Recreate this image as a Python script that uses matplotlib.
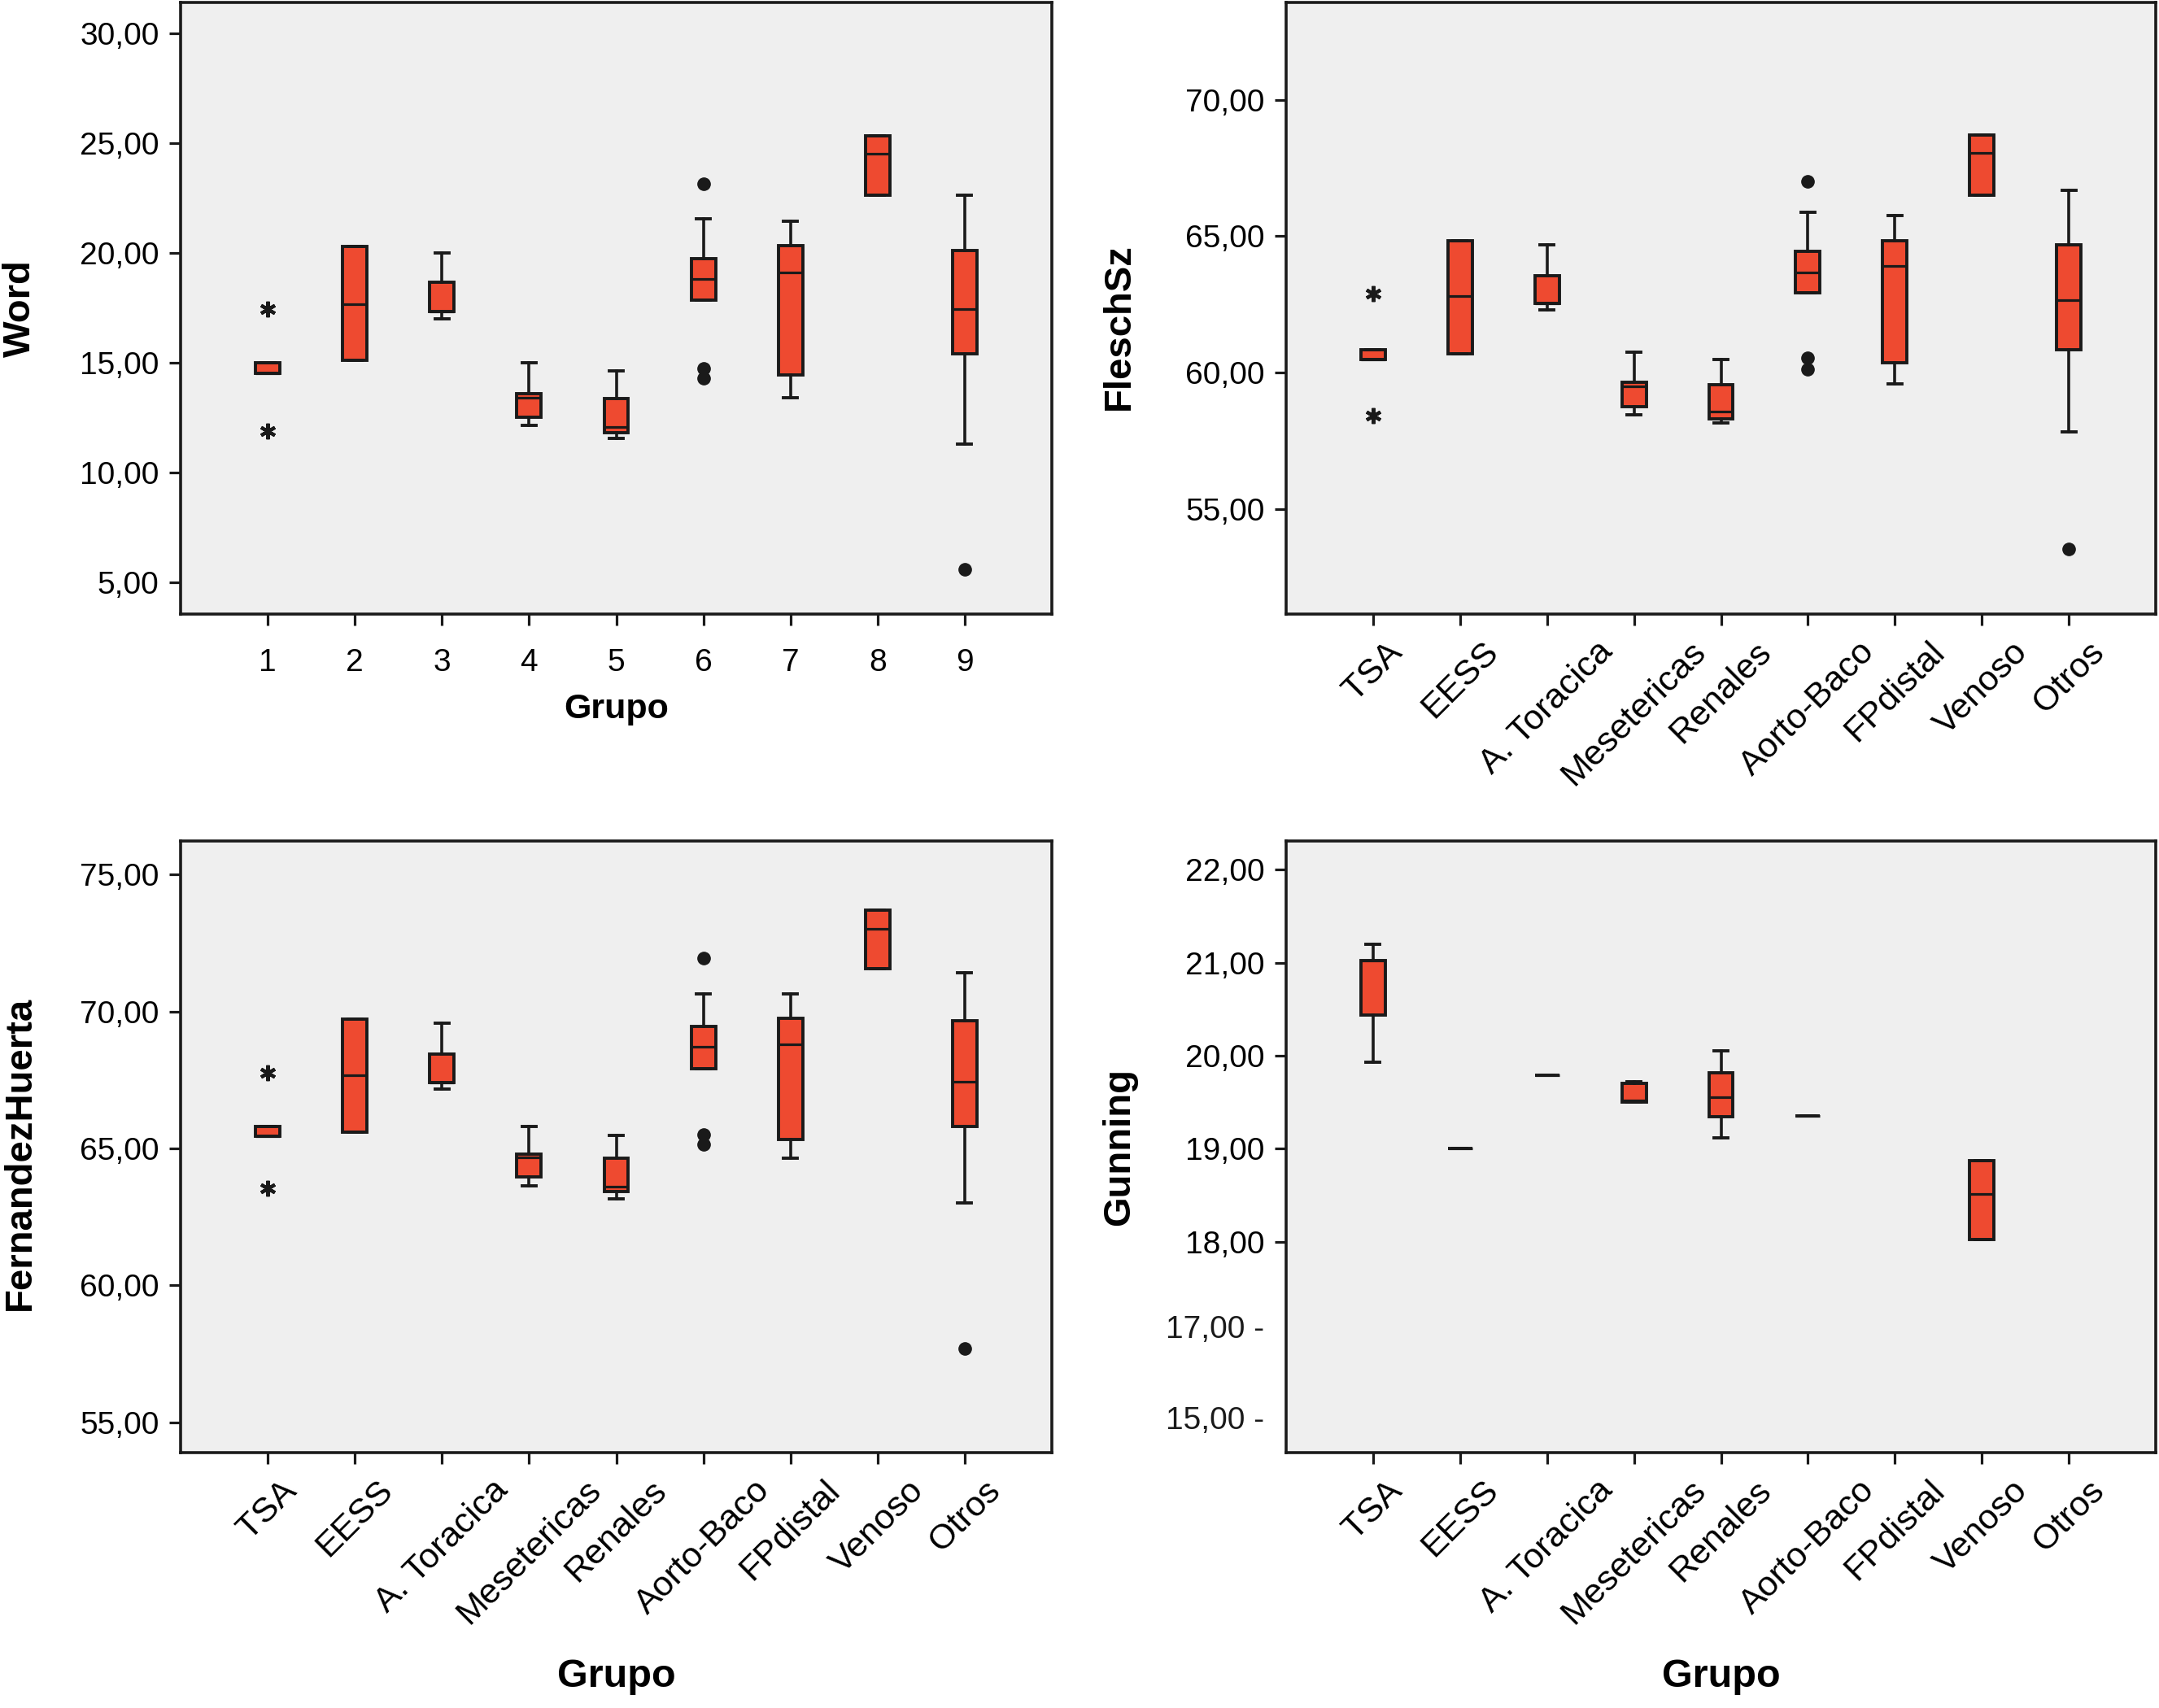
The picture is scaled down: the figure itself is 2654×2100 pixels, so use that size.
import matplotlib
matplotlib.use("Agg")
import matplotlib.pyplot as plt

# ----------------------------
# DATA
# ----------------------------
grupos_num = ["1", "2", "3", "4", "5", "6", "7", "8", "9"]
grupos = ["TSA", "EESS", "A. Toracica", "Mesetericas", "Renales",
          "Aorto-Baco", "FPdistal", "Venoso", "Otros"]

# Word
word_whislo = [14.50, 15.09, 17.01, 12.14, 11.57, 17.86, 13.42, 22.61, 11.29]
word_q1 = [14.50, 15.09, 17.31, 12.50, 11.82, 17.86, 14.44, 22.61, 15.39]
word_med = [14.50, 17.65, 17.31, 13.42, 12.07, 18.81, 19.10, 24.51, 17.42]
word_q3 = [15.00, 20.27, 18.66, 13.59, 13.36, 19.74, 20.31, 25.33, 20.12]
word_whishi = [15.00, 20.27, 19.99, 15.00, 14.63, 21.53, 21.43, 25.33, 22.61]
word_fliers = [[], [], [], [], [], [23.12, 14.72, 14.28], [], [], [5.61]]
word_stars = [[17.45, 11.90], [], [], [], [], [], [], [], []]

# FleschSz
fl_whislo = [60.50, 60.69, 62.30, 58.47, 58.16, 62.92, 59.60, 66.51, 57.84]
fl_q1 = [60.50, 60.69, 62.54, 58.77, 58.32, 62.92, 60.36, 66.51, 60.86]
fl_med = [60.50, 62.80, 62.54, 59.51, 58.58, 63.68, 63.90, 68.04, 62.65]
fl_q3 = [60.84, 64.85, 63.57, 59.67, 59.56, 64.46, 64.85, 68.71, 64.68]
fl_whishi = [60.84, 64.85, 64.68, 60.76, 60.49, 65.88, 65.77, 68.71, 66.67]
fl_fliers = [[], [], [], [], [], [67.01, 60.54, 60.13], [], [], [53.54]]
fl_stars = [[62.89, 58.44], [], [], [], [], [], [], [], []]

# FernandezHuerta
fh_whislo = [65.44, 65.60, 67.17, 63.65, 63.17, 67.90, 64.63, 71.56, 63.02]
fh_q1 = [65.44, 65.60, 67.40, 63.96, 63.42, 67.90, 65.33, 71.56, 65.81]
fh_med = [65.44, 67.67, 67.40, 64.67, 63.60, 68.71, 68.81, 73.00, 67.44]
fh_q3 = [65.79, 69.73, 68.44, 64.79, 64.63, 69.44, 69.75, 73.71, 69.65]
fh_whishi = [65.79, 69.73, 69.58, 65.79, 65.48, 70.63, 70.63, 73.71, 71.42]
fh_fliers = [[], [], [], [], [], [71.94, 65.50, 65.15], [], [], [57.71]]
fh_stars = [[67.77, 63.54], [], [], [], [], [], [], [], []]

# Gunning (no data for FPdistal and Otros)
gu_whislo = [19.93, 19.00, 19.79, 19.50, 19.12, 19.35, None, 18.02, None]
gu_q1 = [20.44, 19.00, 19.79, 19.50, 19.34, 19.35, None, 18.02, None]
gu_med = [21.02, 19.00, 19.79, 19.52, 19.55, 19.35, None, 18.51, None]
gu_q3 = [21.02, 19.00, 19.79, 19.70, 19.82, 19.35, None, 18.87, None]
gu_whishi = [21.20, 19.00, 19.79, 19.72, 20.05, 19.35, None, 18.87, None]

# ----------------------------
# STYLE
# ----------------------------
plt.rcParams["font.family"] = ["Liberation Sans", "DejaVu Sans"]
BOX_COLOR = "#ee4a30"
BG = "#efefef"
INK = "#1a1a1a"

fig = plt.figure(figsize=(26.54, 21.0), dpi=100)
W, H = 2654, 2100


def make_axes(left_px, top_px, right_px, bottom_px):
    return fig.add_axes([left_px / W, 1 - bottom_px / H,
                         (right_px - left_px) / W, (bottom_px - top_px) / H])


def draw_panel(ax, whislo, q1, med, q3, whishi, fliers=None, stars=None):
    stats, pos = [], []
    for i in range(len(med)):
        if med[i] is None:
            continue
        stats.append(dict(whislo=whislo[i], q1=q1[i], med=med[i], q3=q3[i],
                          whishi=whishi[i],
                          fliers=fliers[i] if fliers else []))
        pos.append(i + 1)
    ax.bxp(stats, positions=pos, widths=0.28, capwidths=0.16,
           patch_artist=True, showfliers=True,
           boxprops=dict(facecolor=BOX_COLOR, edgecolor=INK, linewidth=2.8),
           medianprops=dict(color=INK, linewidth=2.3),
           whiskerprops=dict(color=INK, linewidth=2.6),
           capprops=dict(color=INK, linewidth=2.8),
           flierprops=dict(marker="o", markerfacecolor=INK,
                           markeredgecolor=INK, markersize=11))
    if stars:
        for i, vals in enumerate(stars):
            if vals:
                ax.plot([i + 1] * len(vals), vals, linestyle="none",
                        marker=(6, 2, 0), markersize=14, markeredgewidth=3,
                        color=INK)
    ax.set_xlim(0, 10)
    ax.set_facecolor(BG)
    for sp in ax.spines.values():
        sp.set_linewidth(2.6)
        sp.set_color(INK)
    ax.tick_params(direction="out", length=10, width=2.3, color=INK,
                   labelsize=28, pad=9)


def set_yticks(ax, ticks):
    ax.set_yticks(ticks)
    ax.set_yticklabels([f"{t:.2f}".replace(".", ",") for t in ticks])


# ----------------------------
# PANEL 1: Word
# ----------------------------
ax1 = make_axes(222, 3, 1293, 755)
draw_panel(ax1, word_whislo, word_q1, word_med, word_q3, word_whishi,
           word_fliers, word_stars)
ax1.set_ylim(3.56, 31.39)
set_yticks(ax1, [5, 10, 15, 20, 25, 30])
ax1.set_xticks(range(1, 10))
ax1.set_xticklabels(grupos_num)
ax1.tick_params(axis="x", pad=20)
ax1.set_xlabel("Grupo", fontsize=31, fontweight="bold", va="center")
ax1.xaxis.set_label_coords(0.5, -0.156)
ax1.set_ylabel("Word", fontsize=34, fontweight="bold", va="center")
ax1.yaxis.set_label_coords(-0.184, 0.5)

# ----------------------------
# PANEL 2: FleschSz
# ----------------------------
ax2 = make_axes(1581, 3, 2650, 755)
draw_panel(ax2, fl_whislo, fl_q1, fl_med, fl_q3, fl_whishi,
           fl_fliers, fl_stars)
ax2.set_ylim(51.17, 73.56)
set_yticks(ax2, [55, 60, 65, 70])
ax2.set_xticks(range(1, 10))
ax2.set_xticklabels(grupos, rotation=45, fontsize=31)
ax2.set_ylabel("FleschSz", fontsize=34, fontweight="bold", va="center")
ax2.yaxis.set_label_coords(-0.192, 0.47)

# ----------------------------
# PANEL 3: FernandezHuerta
# ----------------------------
ax3 = make_axes(222, 1034, 1293, 1786)
draw_panel(ax3, fh_whislo, fh_q1, fh_med, fh_q3, fh_whishi,
           fh_fliers, fh_stars)
ax3.set_ylim(53.9, 76.22)
set_yticks(ax3, [55, 60, 65, 70, 75])
ax3.set_xticks(range(1, 10))
ax3.set_xticklabels(grupos, rotation=45, fontsize=31)
ax3.set_xlabel("Grupo", fontsize=35, fontweight="bold", va="center")
ax3.xaxis.set_label_coords(0.5, -0.367)
ax3.set_ylabel("FernandezHuerta", fontsize=34, fontweight="bold", va="center")
ax3.yaxis.set_label_coords(-0.184, 0.49)

# ----------------------------
# PANEL 4: Gunning
# ----------------------------
ax4 = make_axes(1581, 1034, 2650, 1786)
draw_panel(ax4, gu_whislo, gu_q1, gu_med, gu_q3, gu_whishi)
ax4.set_ylim(15.73, 22.31)
set_yticks(ax4, [18, 19, 20, 21, 22])
# the two lowest labels sit on a compressed (broken) part of the axis
for val, txt in [(17.05, "17,00 -"), (16.07, "15,00 -")]:
    ax4.annotate(txt, xy=(0, val), xycoords=("axes fraction", "data"),
                 xytext=(-19, 0), textcoords="offset points",
                 ha="right", va="center", fontsize=28, color=INK)
ax4.set_xticks(range(1, 10))
ax4.set_xticklabels(grupos, rotation=45, fontsize=31)
ax4.set_xlabel("Grupo", fontsize=35, fontweight="bold", va="center")
ax4.xaxis.set_label_coords(0.5, -0.367)
ax4.set_ylabel("Gunning", fontsize=34, fontweight="bold", va="center")
ax4.yaxis.set_label_coords(-0.192, 0.50)

fig.savefig("out.png", dpi=100, facecolor="white")
